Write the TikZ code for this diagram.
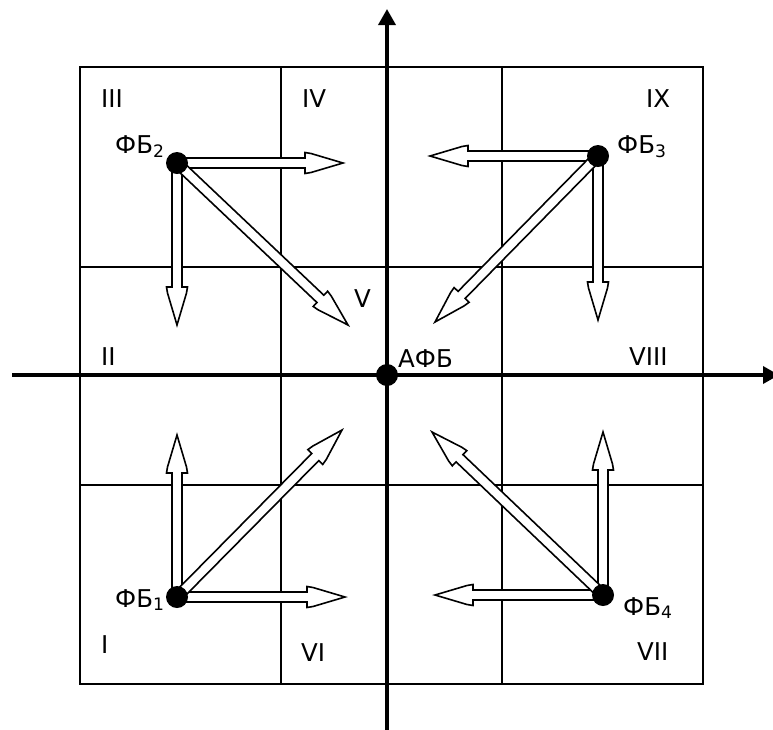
\documentclass[tikz,border=0pt]{standalone}
\usepackage{fontspec}
\setmainfont{DejaVu Sans}
\usetikzlibrary{calc, arrows.meta}
\newcommand{\fbw}{5pt}
\newcommand{\fbarrow}[2]{%
    \draw[hollow] let \p1 = ($(#2.center)-(#1.center)$), \n1 = {atan2(\y1,\x1)},
        \n2 = {veclen(\x1,\y1)} in
        ($(#1.center)+(\n1+90:\fbw)$)
        -- ($(#1.center)+(\n1:\n2-38pt)+(\n1+90:\fbw)$)
        -- ($(#1.center)+(\n1:\n2-38pt)+(\n1+90:10.5pt)$)
        -- ($(#1.center)+(\n1:\n2-32pt)+(\n1+90:9.5pt)$)
        -- (#2.center)
        -- ($(#1.center)+(\n1:\n2-32pt)+(\n1-90:9.5pt)$)
        -- ($(#1.center)+(\n1:\n2-38pt)+(\n1-90:10.5pt)$)
        -- ($(#1.center)+(\n1:\n2-38pt)+(\n1-90:\fbw)$)
        -- ($(#1.center)+(\n1-90:\fbw)$) -- cycle;
}

\begin{document}
\begin{tikzpicture}[
    x=1pt, y=-1pt,
    gridline/.style={draw=black, line width=2.2pt},
    axisline/.style={draw=black, line width=3.5pt,
                     -{Triangle[length=16pt, width=17pt]}},
    hollow/.style={draw=black, fill=white, line width=1.6pt, line join=miter},
    fbdot/.style={circle, fill=black, minimum size=22pt, inner sep=0pt},
    lbl/.style={font=\fontsize{24.5}{29}\selectfont, anchor=base west, inner sep=0pt},
]
\useasboundingbox (0,0) rectangle (773,729);

% --- 3x3 grid of zones ---
\draw[gridline] (80,67) rectangle (703,684);
\foreach \gx in {281, 502} { \draw[gridline] (\gx,67) -- (\gx,684); }
\foreach \gy in {267, 485} { \draw[gridline] (80,\gy) -- (703,\gy); }

% --- axes ---
\coordinate (xl) at (12,375);
\coordinate (xr) at (779,375);
\coordinate (yb) at (387,735);
\coordinate (yt) at (387,9);
\draw[axisline] (xl) -- (xr);
\draw[axisline] (yb) -- (yt);

% --- block positions ---
\coordinate (p1) at (177,597);
\coordinate (p2) at (177,163);
\coordinate (p3) at (598,156);
\coordinate (p4) at (603,595);
\coordinate (p0) at (387,375);

% --- arrow ends ---
\coordinate (p1-n)  at (177,435);
\coordinate (p1-e)  at (345,597);
\coordinate (p1-ne) at (342,430);
\coordinate (p2-e)  at (343,163);
\coordinate (p2-s)  at (177,325);
\coordinate (p2-se) at (348,325);
\coordinate (p3-w)  at (430,156);
\coordinate (p3-s)  at (598,320);
\coordinate (p3-sw) at (435,322);
\coordinate (p4-n)  at (603,432);
\coordinate (p4-w)  at (435,595);
\coordinate (p4-nw) at (432,432);

\foreach \a/\b in {p1/p1-n, p1/p1-e, p1/p1-ne, p2/p2-e, p2/p2-s, p2/p2-se,
                   p3/p3-w, p3/p3-s, p3/p3-sw, p4/p4-n, p4/p4-w, p4/p4-nw} {
    \fbarrow{\a}{\b}
}

% --- dots ---
\node[fbdot] (fb1) at (p1) {};
\node[fbdot] (fb2) at (p2) {};
\node[fbdot] (fb3) at (p3) {};
\node[fbdot] (fb4) at (p4) {};
\node[fbdot] (afb) at (p0) {};

% --- block labels ---
\node[lbl] (fb1-l) at (115,607) {ФБ\textsubscript{1}};
\node[lbl] (fb2-l) at (115,153) {ФБ\textsubscript{2}};
\node[lbl] (fb3-l) at (617,153) {ФБ\textsubscript{3}};
\node[lbl] (fb4-l) at (623,615) {ФБ\textsubscript{4}};
\node[lbl] (afb-l) at (398,367) {АФБ};

% --- zone numbers ---
\node[lbl] (z1) at (101,653) {I};
\node[lbl] (z2) at (101,365) {II};
\node[lbl] (z3) at (101,107) {III};
\node[lbl] (z4) at (302,107) {IV};
\node[lbl] (z5) at (354,307) {V};
\node[lbl] (z6) at (301,661) {VI};
\node[lbl] (z7) at (637,660) {VII};
\node[lbl] (z8) at (629,365) {VIII};
\node[lbl] (z9) at (646,107) {IX};
\end{tikzpicture}
\end{document}
